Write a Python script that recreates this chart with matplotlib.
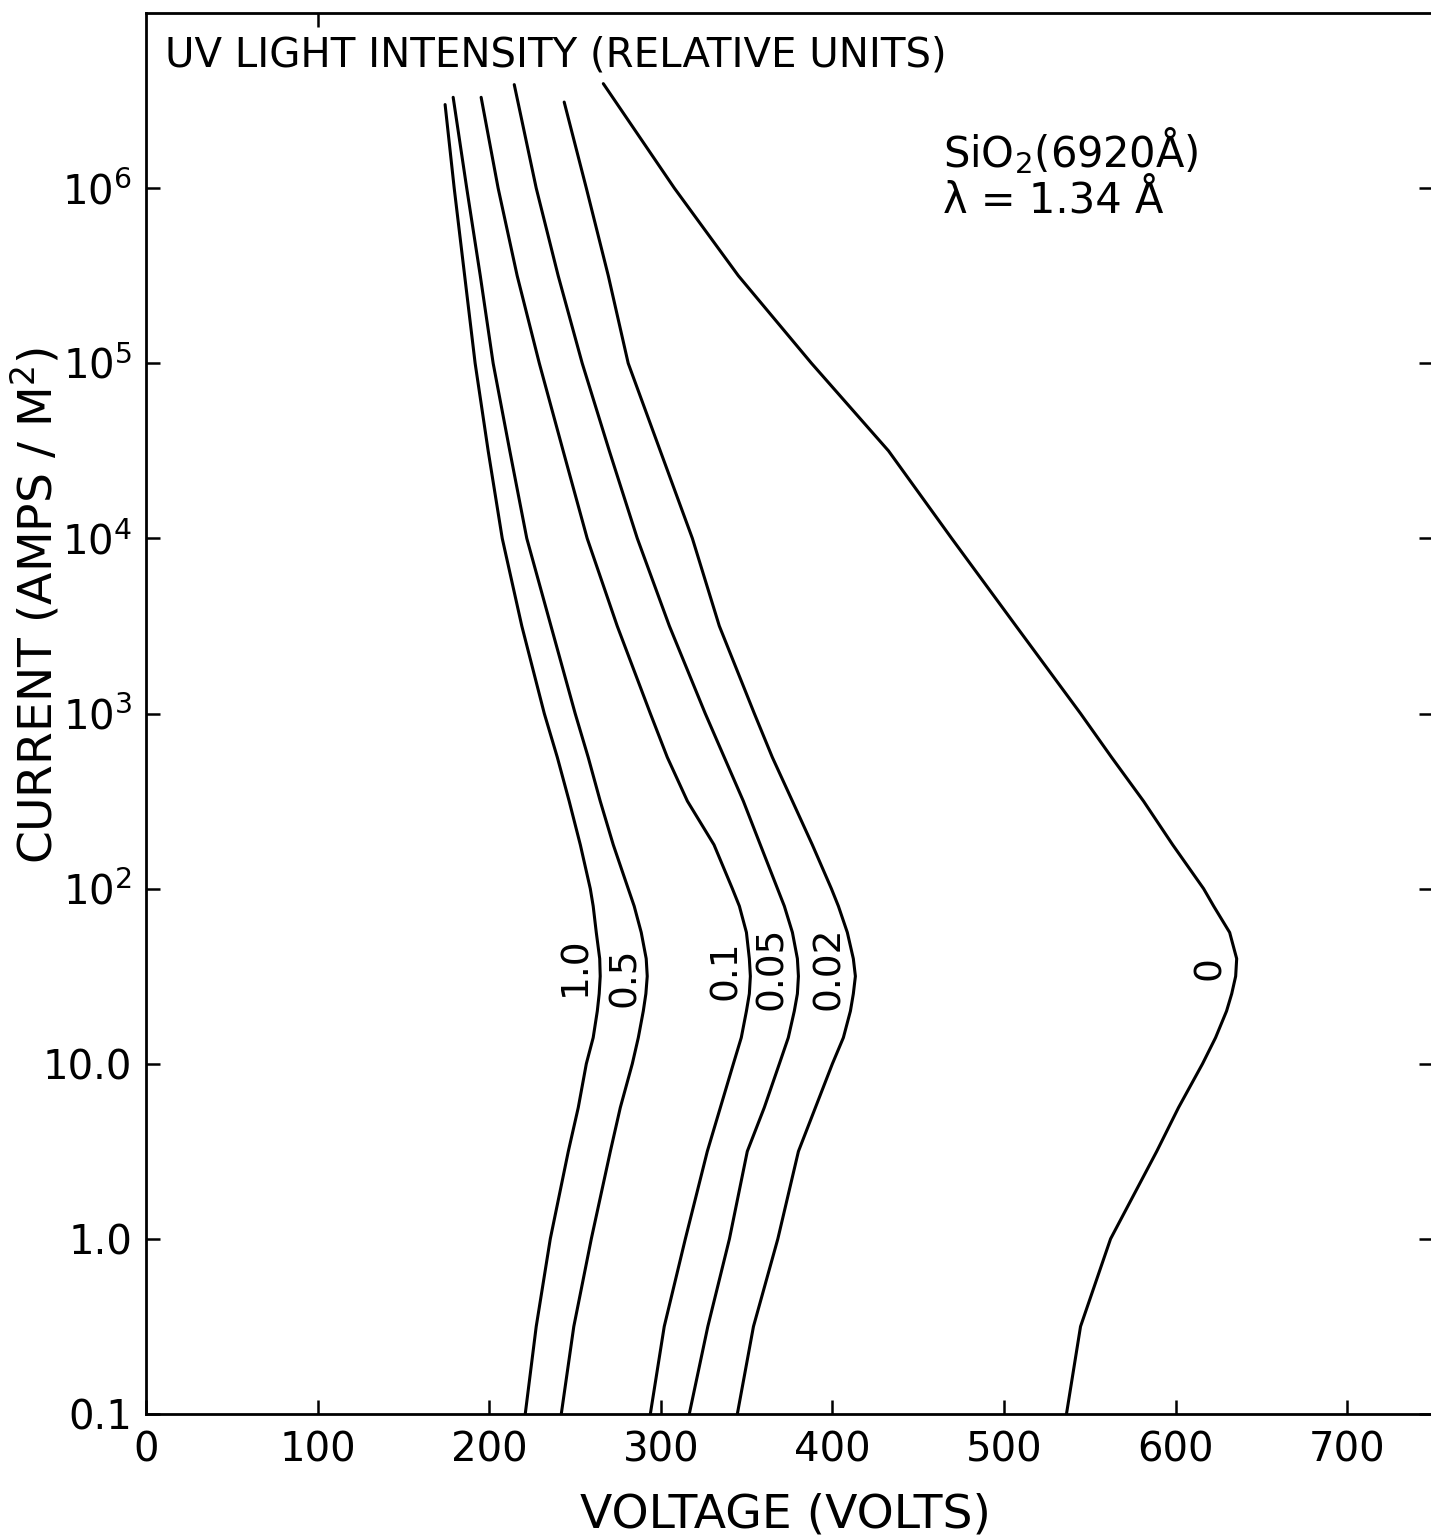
import matplotlib.pyplot as plt
import numpy as np

plt.rcParams['font.family'] = ['DejaVu Sans']
plt.rcParams['mathtext.default'] = 'regular'

current = [0.1, 0.316, 1.0, 3.16, 5.62, 10, 14.1, 20, 25.1, 31.6, 39.8,
           56.2, 79.4, 100, 178, 316, 562, 1e3, 3.16e3, 1e4, 3.16e4,
           1e5, 3.16e5, 1e6]

# voltage of each curve at those current levels
v_1_0 = [221.0, 227.4, 235.6, 246.1, 251.9, 256.6, 260.6, 263.0, 264.1,
         264.7, 264.4, 262.4, 260.6, 258.9, 253.1, 246.6, 239.7, 232.1,
         219.0, 207.6, 199.4, 191.8, 185.7, 179.6]
v_0_5 = [242.0, 249.3, 259.5, 270.6, 276.4, 283.4, 286.9, 289.8, 291.3,
         292.1, 291.5, 288.6, 284.5, 281.0, 272.3, 264.7, 257.7, 250.1,
         236.0, 221.9, 212.0, 202.3, 194.8, 186.9]
v_0_1 = [293.9, 302.0, 314.3, 327.1, 334.7, 342.3, 346.9, 349.9, 351.6,
         352.2, 351.6, 349.9, 345.8, 341.7, 331.0, 315.5, 303.8, 293.9,
         274.6, 257.1, 243.1, 229.2, 216.3, 205.2]
v_0_05 = [316.6, 327.4, 340.0, 350.4, 360.3, 369.1, 374.3, 377.8, 379.6,
          380.2, 379.6, 376.7, 372.0, 368.0, 358.0, 348.1, 337.0, 325.9,
          305.0, 286.3, 270.0, 254.2, 240.2, 227.4]
v_0_02 = [344.6, 354.0, 368.2, 380.2, 390.1, 400.0, 406.4, 410.5, 412.2,
          413.4, 412.2, 408.7, 403.5, 399.4, 388.3, 376.7, 365.0, 354.5,
          334.1, 318.4, 299.7, 281.0, 269.4, 256.6]
v_0 = [536.4, 544.6, 562.1, 589.0, 601.7, 615.7, 623.3, 629.7, 632.7,
       635.0, 635.6, 631.5, 622.2, 616.3, 598.3, 581.3, 562.7, 544.6,
       507.0, 469.5, 432.7, 387.8, 345.2, 307.9]

curves = [v_1_0, v_0_5, v_0_1, v_0_05, v_0_02, v_0]
intensity = ['1.0', '0.5', '0.1', '0.05', '0.02', '0']

# upper end point of each curve
top_v = [174.3, 179.0, 195.3, 214.6, 243.7, 266.5]
top_i = [3.0e6, 3.3e6, 3.3e6, 3.9e6, 3.1e6, 3.95e6]

# where the intensity labels sit
label_v = [250, 279, 338, 365, 398, 620]
label_i = [36, 31, 34, 35, 35, 35]

yticks = [0.1, 1, 10, 100, 1e3, 1e4, 1e5, 1e6]
ylabels = ['0.1', '1.0', '10.0', '10$^2$', '10$^3$', '10$^4$', '10$^5$', '10$^6$']
xticks = [0, 100, 200, 300, 400, 500, 600, 700]

fig = plt.figure(figsize=(14.31, 15.38), dpi=100)
ax = fig.add_axes([146 / 1431, 124 / 1538, 1287 / 1431, 1401 / 1538])

for v, tv, ti in zip(curves, top_v, top_i):
    ax.plot(v + [tv], current + [ti], color='black', lw=2.2,
            solid_capstyle='round', solid_joinstyle='round')

for lab, lv, li in zip(intensity, label_v, label_i):
    ax.text(lv, li, lab, rotation=90, ha='center', va='center', fontsize=27)

ax.set_yscale('log')
ax.set_xlim(0, 750)
ax.set_ylim(0.1, 1e7)
ax.set_yticks(yticks)
ax.set_yticklabels(ylabels)
ax.yaxis.set_minor_locator(plt.NullLocator())
ax.set_xticks(xticks)
ax.tick_params(direction='in', length=10, width=1.8, labelsize=29,
               right=True)
ax.tick_params(axis='x', pad=12)
ax.tick_params(axis='y', pad=10)
for s in ax.spines.values():
    s.set_linewidth(2.0)

# single tick on the top edge
top = ax.secondary_xaxis('top')
top.set_xticks([100])
top.tick_params(direction='in', length=10, width=1.8, labeltop=False)

ax.text(0.015, 0.970, 'UV LIGHT INTENSITY (RELATIVE UNITS)',
        transform=ax.transAxes, ha='left', va='center', fontsize=29)
ax.text(0.619, 0.902, 'SiO$_2$(6920Å)', transform=ax.transAxes,
        ha='left', va='center', fontsize=30)
ax.text(0.619, 0.8665, 'λ = 1.34 Å', transform=ax.transAxes,
        ha='left', va='center', fontsize=30)

fig.text(36 / 1431, 1 - 605 / 1538, 'CURRENT (AMPS / M$^2$)', rotation=90,
         ha='center', va='center', fontsize=34)
fig.text(785 / 1431, 1 - 1515 / 1538, 'VOLTAGE (VOLTS)',
         ha='center', va='center', fontsize=34)

fig.savefig('out.png', dpi=100, facecolor='white')
